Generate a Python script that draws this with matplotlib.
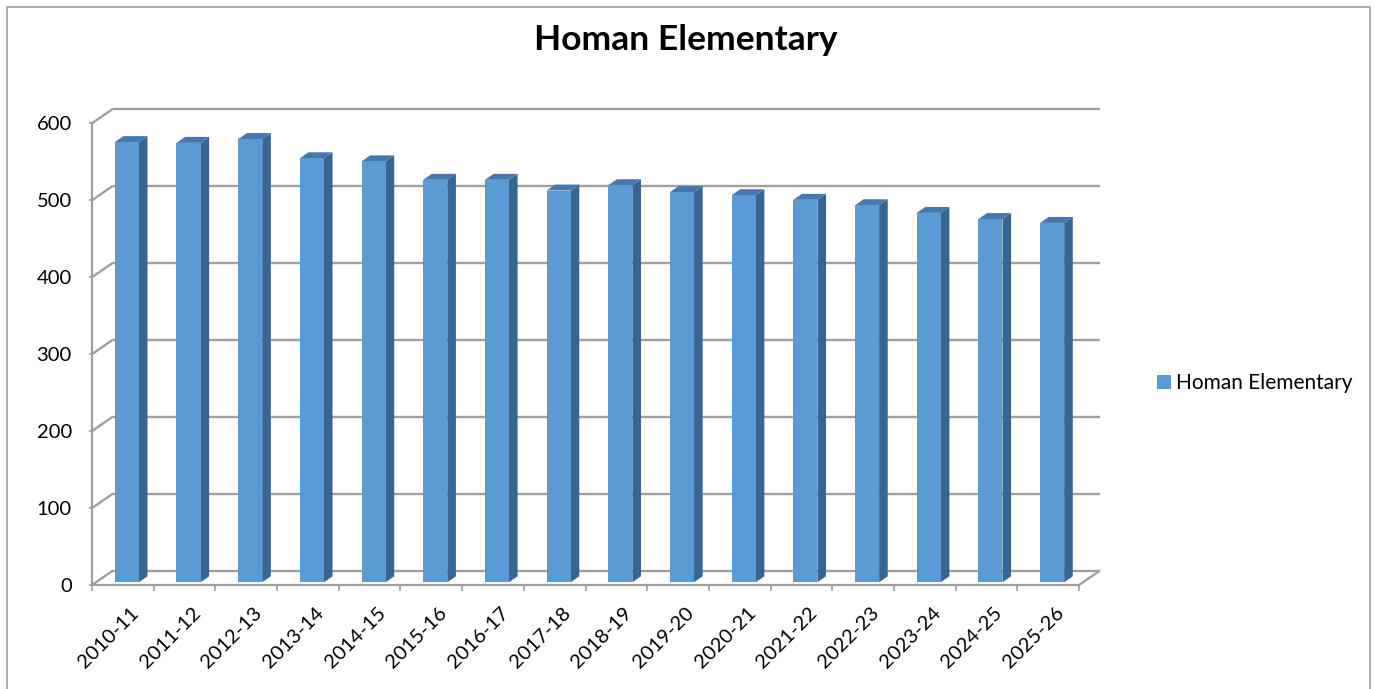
import matplotlib
matplotlib.use('Agg')
import matplotlib.pyplot as plt
from matplotlib.patches import Polygon
from matplotlib.lines import Line2D
from matplotlib.transforms import ScaledTranslation
import numpy as np

# data
years = ['2010-11', '2011-12', '2012-13', '2013-14', '2014-15', '2015-16',
         '2016-17', '2017-18', '2018-19', '2019-20', '2020-21', '2021-22',
         '2022-23', '2023-24', '2024-25', '2025-26']
enrollment = [572, 571, 576, 551, 547, 523, 523, 509,
              516, 507, 503, 497, 490, 480, 472, 467]
y_ticks = [0, 100, 200, 300, 400, 500, 600]
series_name = 'Homan Elementary'
title = 'Homan Elementary'

# look of the fake 3d excel chart
W, H = 1374, 689
DEPTH = np.array([21.0, 14.5])   # pixel offset of the back wall
BAR_FRONT, BAR_BACK = 0.19, 0.60  # depth fraction of bar faces
BAR_W = 0.39
GRID = '#a0a0a0'
FRONT = '#5b9bd5'
SIDE = '#3a6590'
TOP = '#4678ad'
LABEL_SIZE = 14.5

plt.rcParams['font.family'] = ['Lato', 'DejaVu Sans']

fig = plt.figure(figsize=(W / 100, H / 100), dpi=100)
ax = fig.add_axes([92 / W, 1 - 585 / H, (1079 - 92) / W, (585 - 123.3) / H])
n = len(years)
ax.set_xlim(0, n)
ax.set_ylim(0, max(y_ticks))
ax.patch.set_visible(False)
for s in ['top', 'right']:
    ax.spines[s].set_visible(False)
for s in ['left', 'bottom']:
    ax.spines[s].set_color(GRID)
    ax.spines[s].set_linewidth(1.6)


def at_depth(xs, ys, f):
    """data coords moved f of the way toward the back wall"""
    pts = ax.transData.transform(np.column_stack([xs, ys]))
    pts = pts + DEPTH * f
    return ax.transData.inverted().transform(pts)


line_kw = dict(color=GRID, lw=1.7, clip_on=False, zorder=1,
               solid_capstyle='butt')

# back wall grid and left wall diagonals
for v in y_ticks:
    back = at_depth([0, n], [v, v], 1.0)
    ax.plot(back[:, 0], back[:, 1], **line_kw)
    diag = np.vstack([[0, v], at_depth([0], [v], 1.0)])
    ax.plot(diag[:, 0], diag[:, 1], **line_kw)

# right edge of the floor
floor_r = np.vstack([[n, 0], at_depth([n], [0], 1.0)])
ax.plot(floor_r[:, 0], floor_r[:, 1], **line_kw)

# bars: front face with ax.bar, side and top as polygons
centers = np.arange(n) + 0.5
off0 = at_depth([0], [0], BAR_FRONT)[0]
bars = ax.bar(centers + off0[0], enrollment, width=BAR_W, bottom=off0[1],
              color=FRONT, zorder=3, label=series_name)

for c, v in zip(centers, enrollment):
    xl, xr = c - BAR_W / 2, c + BAR_W / 2
    f_r0 = at_depth([xr, xr], [0, v], BAR_FRONT)
    f_r1 = at_depth([xr, xr], [v, 0], BAR_BACK)
    ax.add_patch(Polygon(np.vstack([f_r0, f_r1]), closed=True, color=SIDE,
                         lw=0, zorder=2, clip_on=False))
    t0 = at_depth([xl, xr], [v, v], BAR_FRONT)
    t1 = at_depth([xr, xl], [v, v], BAR_BACK)
    ax.add_patch(Polygon(np.vstack([t0, t1]), closed=True, color=TOP,
                         lw=0, zorder=2, clip_on=False))

# ticks
ax.set_yticks(y_ticks)
ax.tick_params(axis='y', length=2.5, width=1.2, color=GRID, pad=12,
               labelsize=LABEL_SIZE)
ax.set_xticks(np.arange(n + 1))
ax.set_xticklabels([])
ax.tick_params(axis='x', which='major', length=4, width=1.2, color=GRID)
ax.set_xticks(centers, minor=True)
ax.set_xticklabels(years, minor=True)
ax.tick_params(axis='x', which='minor', length=0, pad=14,
               labelsize=LABEL_SIZE)
shift = ScaledTranslation(7 / 100, 0, fig.dpi_scale_trans)
for lab in ax.get_xticklabels(minor=True):
    lab.set_rotation(45)
    lab.set_ha('right')
    lab.set_rotation_mode('anchor')
    lab.set_transform(lab.get_transform() + shift)

# legend on the right
ax.legend(handles=[bars], labels=[series_name], loc='center left',
          bbox_to_anchor=(1147 / W, 1 - 383 / H),
          bbox_transform=fig.transFigure, frameon=False, borderpad=0,
          handlelength=0.65, handleheight=0.65, handletextpad=0.25,
          fontsize=15)

fig.text(686 / W, 1 - 50 / H, title, ha='center', va='baseline',
         fontsize=25.5, fontweight='bold')

# chart area border (bottom edge is off the picture)
bx = np.array([7, 7, 1370, 1370]) / W
by = 1 - np.array([H + 5, 7, 7, H + 5]) / H
fig.add_artist(Line2D(bx, by, transform=fig.transFigure, color='#a6a6a6',
                      lw=1.3))

fig.savefig('out.png', dpi=100)
